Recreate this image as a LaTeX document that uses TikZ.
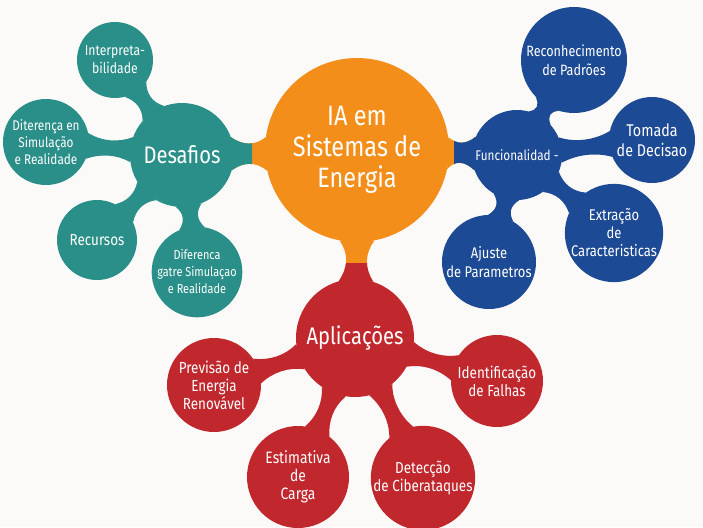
\documentclass[tikz,border=0pt]{standalone}
\usepackage{fontspec}
\setmainfont{Fira Sans}[FakeStretch=0.84]
\usetikzlibrary{backgrounds, calc}
\definecolor{paper}{HTML}{FCFAF8}
\definecolor{coreorange}{HTML}{F38E1A}
\definecolor{desafioteal}{HTML}{2A8F89}
\definecolor{funcblue}{HTML}{1D4A94}
\definecolor{aplicred}{HTML}{C1282E}
\tikzset{
  bubble/.style={circle, draw=none, text=white, align=center, inner sep=0pt,
                 font=\fontsize{16}{18}\selectfont},
  corebubble/.style={bubble, fill=coreorange, minimum size=184pt,
                     font=\fontsize{28}{31}\selectfont},
  hubbubble/.style={bubble, font=\fontsize{24}{28}\selectfont},
  smallbubble/.style={bubble, font=\fontsize{14}{17}\selectfont},
}
% flared connector between two circle nodes
\newcommand\linkflare{13}
\newcommand\linkneck{6pt}
\newcommand\metalink[3]{%
  \fill[#3] let \p1=(#1.center), \p2=(#2.center), \p3=(#1.east), \p4=(#2.east),
      \n1={atan2((\y2)-(\y1),(\x2)-(\x1))}, \n2={\n1+180},
      \n3={asin(\linkflare/((\x3)-(\x1)))}, \n4={asin(\linkflare/((\x4)-(\x2)))},
      \n5={\n1+\n3}, \n6={\n1-\n3}, \n7={\n2+\n4}, \n8={\n2-\n4} in
    (#1.\n5) .. controls ($(#1.\n1)!0.3!(#2.\n2)!\linkneck!90:(#2.\n2)$)
                 and ($(#1.\n1)!0.7!(#2.\n2)!\linkneck!90:(#2.\n2)$) .. (#2.\n8)
    -- (#2.\n7) .. controls ($(#1.\n1)!0.7!(#2.\n2)!\linkneck!-90:(#2.\n2)$)
                 and ($(#1.\n1)!0.3!(#2.\n2)!\linkneck!-90:(#2.\n2)$) .. (#1.\n6)
    -- cycle;}

\begin{document}
\begin{tikzpicture}[x=1pt, y=-1pt]
    \useasboundingbox (0,0) rectangle (703,527);
    % centre
    \node[corebubble] (core) at (357,150) {IA em\\Sistemas de\\Energia};
    % desafios
    \node[hubbubble, fill=desafioteal, minimum size=104pt] (desafios) at (182,155) {Desafios};
    \node[bubble, fill=desafioteal, minimum size=76pt, font=\fontsize{14.5}{18}\selectfont] (interp) at (115,60) {Interpreta-\\bilidade};
    \node[smallbubble, fill=desafioteal, minimum size=86pt] (difsim) at (46,142) {Diterença en\\Simulação\\e Realidade};
    \node[bubble, fill=desafioteal, minimum size=80pt] (recursos) at (97,240) {Recursos};
    \node[smallbubble, fill=desafioteal, minimum size=86pt, font=\fontsize{13}{17}\selectfont] (difgatre) at (197,272) {Diferenca\\gatre Simulaçao\\e Realidade};
    % funcionalidad
    \node[bubble, fill=funcblue, minimum size=90pt, font=\fontsize{14}{17}\selectfont] (func) at (517,155) {Funcionalidad -};
    \node[bubble, fill=funcblue, minimum size=106pt, font=\fontsize{15}{19}\selectfont] (recon) at (574,60) {Reconhecimento\\de Padrões};
    \node[bubble, fill=funcblue, minimum size=86pt, font=\fontsize{17}{20}\selectfont] (tomada) at (652,140) {Tomada\\de Decisao};
    \node[bubble, fill=funcblue, minimum size=96pt, font=\fontsize{15.5}{18}\selectfont] (extr) at (614,233) {Extração\\de\\Caracteristicas};
    \node[bubble, fill=funcblue, minimum size=94pt, font=\fontsize{15.5}{19}\selectfont] (ajuste) at (489,262) {Ajuste\\de Parametros};
    % aplicacoes
    \node[hubbubble, fill=aplicred, minimum size=118pt] (aplic) at (355,338) {Aplicações};
    \node[bubble, fill=aplicred, minimum size=94pt] (prev) at (214,385) {Previsão de\\Energia\\Renovável};
    \node[bubble, fill=aplicred, minimum size=92pt] (ident) at (497,381) {Identificação\\de Falhas};
    \node[bubble, fill=aplicred, minimum size=102pt, font=\fontsize{16.5}{18}\selectfont] (estim) at (298,477) {Estimativa\\de\\Carga};
    \node[bubble, fill=aplicred, minimum size=102pt] (detec) at (423,478) {Detecção\\de Ciberataques};

    \begin{pgfonlayer}{background}
      \fill[paper] (0,0) rectangle (703,527);
      \foreach \leaf in {interp, difsim, recursos, difgatre}
        \metalink{desafios}{\leaf}{desafioteal};
      \foreach \leaf in {recon, tomada, extr, ajuste}
        \metalink{func}{\leaf}{funcblue};
      \foreach \leaf in {prev, ident, estim, detec}
        \metalink{aplic}{\leaf}{aplicred};
      % thicker links to the centre
      \renewcommand\linkflare{17}
      \renewcommand\linkneck{8pt}
      \metalink{core}{desafios}{coreorange};
      \metalink{core}{func}{coreorange};
      \metalink{core}{aplic}{coreorange};
      \begin{scope}
        \clip (0,0) rectangle (252,527);
        \metalink{core}{desafios}{desafioteal};
      \end{scope}
      \begin{scope}
        \clip (454,0) rectangle (703,527);
        \metalink{core}{func}{funcblue};
      \end{scope}
      \begin{scope}
        \clip (0,263) rectangle (703,527);
        \metalink{core}{aplic}{aplicred};
      \end{scope}
    \end{pgfonlayer}
  \end{tikzpicture}
\end{document}
